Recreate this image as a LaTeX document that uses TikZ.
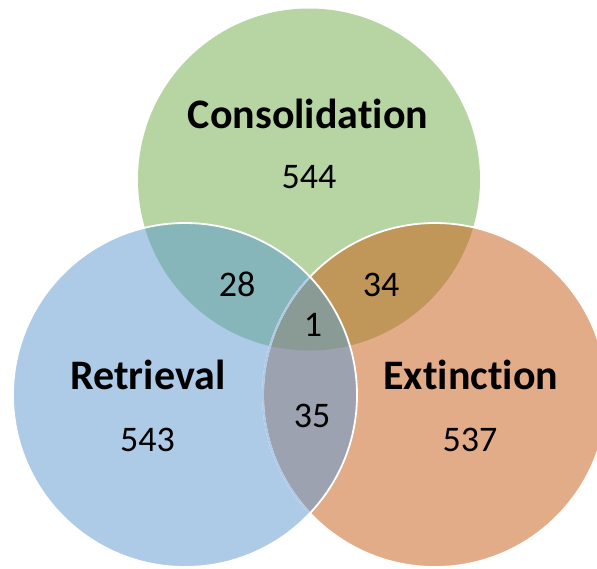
\documentclass[tikz,border=0pt]{standalone}
\usepackage{fontspec}
\setmainfont{Carlito}[Ligatures={NoCommon,NoRequired,NoContextual}]
\definecolor{cG}{HTML}{B7D5A3}
\definecolor{cB}{HTML}{ADCAE7}
\definecolor{cO}{HTML}{E2AC88}
\definecolor{cGB}{HTML}{86B6BA}
\definecolor{cGO}{HTML}{C09759}
\definecolor{cBO}{HTML}{9CA2AF}
\definecolor{cAll}{HTML}{8A9B96}
\tikzset{
  setname/.style={anchor=base,inner sep=0pt,font=\fontsize{42}{46}\selectfont\bfseries},
  count/.style={anchor=base,inner sep=0pt,font=\fontsize{36}{40}\selectfont},
  rim/.style={draw=white,line width=1.8pt}
}
\begin{document}
\begin{tikzpicture}[x=1pt,y=-1pt]
\useasboundingbox (0,0) rectangle (597,568);
\clip (0,0) rectangle (597,568);
\def\Gc{(309,179.5) circle (171)}
\def\Bc{(185,395) circle (172)}
\def\Oc{(435,395) circle (172)}
% base fills
\fill[cG] \Gc;
\fill[cB] \Bc;
\fill[cO] \Oc;
% pairwise overlaps
\begin{scope}
  \clip \Gc;
  \fill[cGB] \Bc;
  \fill[cGO] \Oc;
\end{scope}
\begin{scope}
  \clip \Bc;
  \fill[cBO] \Oc;
\end{scope}
\begin{scope}
  \clip \Gc;
  \clip \Bc;
  \fill[cAll] \Oc;
\end{scope}
% outlines
\draw[rim] \Oc;
\begin{scope}
  \clip \Bc;
  \draw[draw=cB,line width=1.8pt] \Oc;
\end{scope}
\draw[rim] \Bc;
% texts
\node[setname] (cons) at (308,128.6) {Consolidation};
\node[count] (n544) at (309,188) {544};
\node[setname] (retr) at (148,389.5) {Retrieval};
\node[count] (n543) at (147.6,451) {543};
\node[setname] (ext) at (470.7,389.5) {Extinction};
\node[count] (n537) at (470,451) {537};
\node[count] (n28) at (237,296) {28};
\node[count] (n34) at (381,296) {34};
\node[count] (n1) at (313,336) {1};
\node[count] (n35) at (312,427.5) {35};
\end{tikzpicture}
\end{document}
